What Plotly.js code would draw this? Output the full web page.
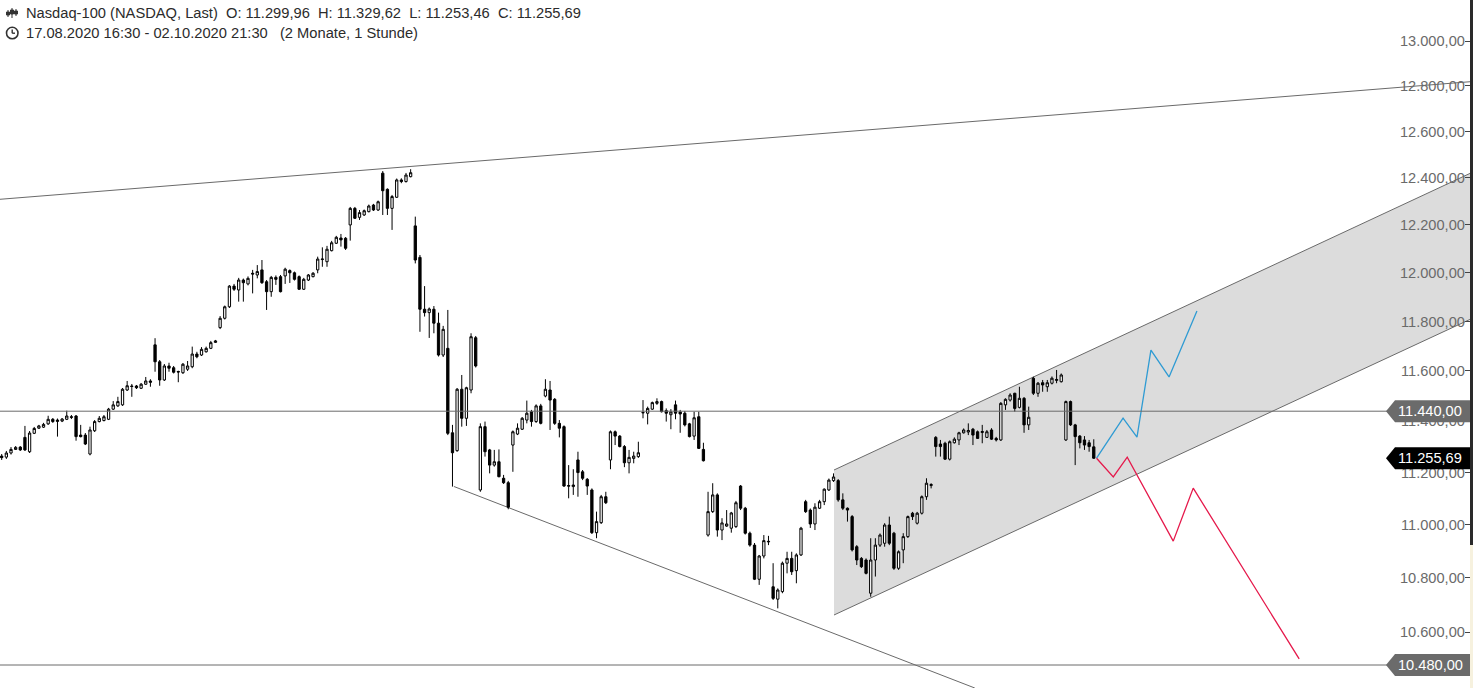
<!DOCTYPE html>
<html><head><meta charset="utf-8">
<script src="https://cdn.plot.ly/plotly-3.0.1.min.js"></script>
<style>html,body{margin:0;padding:0;background:#fff;overflow:hidden}</style>
</head><body><div id="chart" style="width:1473px;height:688px"></div>
<script>
// ---- Nasdaq-100 hourly candles, 17.08.2020 - 02.10.2020 ----
const open = [11264,11260,11276,11290,11299,11337,11281,11353,11373,11377,
11390,11408,11405,11401,11408,11418,11421,11346,11346,11272,
11363,11399,11403,11408,11448,11461,11465,11524,11540,11540,
11531,11547,11560,11705,11637,11564,11620,11613,11598,11593,
11607,11617,11668,11664,11677,11691,11715,11775,11813,11860,
11945,11929,11970,11954,11998,11991,12012,11963,11922,11981,
11984,11987,12009,12000,11984,11932,11970,11984,12012,12055,
12046,12092,12123,12145,12144,12200,12270,12232,12242,12256,
12284,12263,12420,12351,12270,12317,12391,12384,12405,12196,
12064,11850,11836,11850,11793,11664,11691,11355,11285,11527,
11412,11524,11734,11133,11379,11288,11229,11242,11178,11161,
11307,11350,11369,11405,11438,11399,11461,11500,11524,11487,
11392,11379,11150,11146,11249,11203,11174,11133,10970,11008,
11107,11249,11359,11342,11301,11238,11255,11262,11433,11432,
11448,11471,11478,11442,11426,11465,11437,11432,11390,11342,
11418,11290,10961,11050,11114,10980,10995,10987,10993,11148,
11063,10968,10923,10795,10882,10935,10767,10721,10749,10855,
10873,10827,10886,11088,11056,11003,11063,11088,11133,11169,
11169,11095,11063,11031,10917,10873,10867,10743,10867,10923,
10930,10999,10968,10836,10905,10955,11044,11006,11044,11107,
11150,11337,11311,11314,11252,11316,11327,11355,11358,11369,
11359,11356,11337,11366,11333,11327,11465,11484,11511,11455,
11491,11386,11571,11511,11553,11537,11551,11562,11557,11327,
11478,11386,11342,11327,11316,11299.96];
const high = [11272,11284,11299,11303,11303,11382,11362,11378,11386,11394,
11422,11413,11411,11413,11442,11425,11425,11386,11354,11379,
11405,11421,11425,11453,11480,11497,11532,11560,11548,11544,
11552,11576,11567,11732,11644,11628,11633,11620,11601,11632,
11640,11698,11677,11696,11698,11721,11725,11822,11865,11949,
11954,11979,11976,11985,12012,12032,12053,11970,11987,11989,
11991,12021,12014,12005,11989,11979,11995,12003,12067,12106,
12112,12133,12154,12162,12149,12276,12276,12263,12265,12286,
12289,12303,12429,12355,12327,12397,12398,12421,12437,12235,
12074,11945,11857,11863,11836,11782,11847,11386,11532,11584,
11537,11752,11741,11392,11399,11292,11288,11290,11191,11168,
11364,11392,11417,11482,11445,11467,11469,11567,11560,11492,
11405,11384,11229,11213,11281,11210,11179,11139,11050,11114,
11126,11364,11364,11346,11307,11288,11281,11320,11484,11458,
11478,11491,11482,11451,11448,11482,11445,11441,11394,11438,
11438,11316,11126,11159,11120,11025,11056,11049,11091,11152,
11068,10974,10931,10886,10961,10958,10855,10761,10861,10898,
10898,10892,10992,11095,11062,11082,11095,11139,11177,11197,
11175,11120,11066,11037,10923,10878,10873,10949,10949,10967,
11006,11031,10973,10903,10968,11035,11049,11049,11112,11178,
11159,11342,11327,11320,11325,11337,11359,11372,11392,11374,
11364,11386,11366,11373,11339,11476,11491,11511,11513,11537,
11496,11458,11577,11556,11564,11564,11578,11604,11590,11482,
11482,11390,11346,11342,11327,11329.62];
const low = [11249,11253,11270,11288,11284,11284,11276,11350,11370,11374,
11386,11394,11340,11397,11405,11409,11324,11337,11307,11267,
11358,11396,11400,11405,11445,11457,11461,11520,11497,11528,
11528,11544,11537,11597,11541,11560,11597,11590,11555,11588,
11600,11611,11651,11660,11674,11688,11713,11769,11808,11855,
11925,11881,11881,11948,11915,11977,11954,11847,11901,11950,
11919,11954,11958,11968,11929,11929,11966,11981,11998,12025,
12025,12089,12120,12109,12095,12134,12225,12221,12238,12253,
12259,12259,12242,12242,12179,12314,12377,12380,12402,12039,
11758,11820,11733,11752,11658,11656,11346,11146,11281,11379,
11382,11511,11614,11126,11262,11197,11223,11182,11156,11059,
11203,11346,11366,11392,11379,11394,11388,11495,11366,11386,
11337,11145,11101,11114,11107,11171,11114,10965,10949,11003,
11079,11213,11307,11298,11221,11197,11236,11257,11412,11388,
11445,11465,11435,11399,11369,11408,11355,11380,11337,11327,
11292,11243,10955,11045,10955,10942,10992,10970,10988,11056,
10963,10917,10792,10774,10873,10923,10718,10687,10743,10817,
10811,10780,10882,11045,10988,10980,11060,11075,11129,11164,
11088,11056,11012,10899,10848,10837,10813,10730,10805,10916,
10917,10923,10830,10830,10855,10950,11018,11001,11039,11095,
11139,11262,11262,11249,11247,11313,11307,11352,11346,11307,
11331,11314,11335,11327,11321,11323,11445,11478,11438,11451,
11355,11366,11504,11497,11517,11517,11546,11551,11554,11323,
11382,11229,11294,11288,11281,11253.46];
const close = [11258,11276,11290,11298,11288,11288,11354,11372,11382,11388,
11408,11399,11400,11409,11421,11416,11340,11340,11311,11366,
11399,11412,11418,11448,11465,11478,11527,11541,11538,11533,
11547,11560,11555,11637,11564,11620,11611,11595,11596,11627,
11620,11668,11657,11687,11691,11714,11721,11813,11860,11945,
11932,11970,11959,11977,11995,12005,11959,11922,11981,11973,
11922,12015,12000,11973,11932,11973,11991,11998,12057,12057,
12098,12125,12148,12137,12102,12270,12228,12252,12260,12280,
12263,12298,12345,12270,12320,12391,12384,12412,12422,12053,
11850,11836,11851,11793,11664,11768,11353,11277,11527,11412,
11533,11738,11620,11379,11281,11229,11242,11184,11161,11067,
11359,11373,11412,11432,11399,11461,11392,11527,11484,11392,
11373,11148,11148,11152,11200,11178,11148,10970,11012,11107,
11084,11359,11342,11301,11238,11259,11264,11277,11435,11451,
11474,11478,11438,11432,11437,11432,11429,11386,11340,11414,
11294,11246,11050,11114,10980,11007,11003,11045,11084,11063,
10968,10923,10795,10882,10940,10937,10724,10755,10855,10873,
10823,10886,10987,11050,11003,11067,11088,11136,11171,11183,
11095,11063,11056,10905,10867,10842,10817,10867,10923,10961,
10999,10930,10836,10898,10955,11031,11031,11044,11107,11159,
11154,11301,11301,11252,11320,11330,11355,11366,11364,11346,
11333,11360,11359,11330,11327,11471,11487,11504,11451,11491,
11386,11416,11511,11551,11544,11553,11571,11566,11584,11478,
11386,11340,11316,11307,11301,11255.69];

// ---- drawings (bar index, price) ----
const upperTrendX = [-0.37, 316.6];
const upperTrendY = [12308.5, 12819.5];
const lowerTrendX = [97.3, 209.4];
const lowerTrendY = [11146.4, 10397.1];
const channelX = [179.1, 316.6];
const channelUpper = [11210, 12425];
const channelLower = [10662.5, 11814];
const blueX = [235.6, 241.3, 244.3, 247.3, 251.2, 257.2];
const blueY = [11255.69, 11413, 11338, 11684, 11576, 11843];
const redX = [235.6, 239.2, 242.2, 252.1, 256.4, 279.2];
const redY = [11255.69, 11183, 11260, 10938, 11140, 10502];
const levels = [11440, 10480];
const yTicks = [10400,10600,10800,11000,11200,11400,11600,11800,12000,12200,12400,12600,12800,13000];
const titleName = 'Nasdaq-100 (NASDAQ, Last)';
const periodText = '17.08.2020 16:30 - 02.10.2020 21:30   (2 Monate, 1 Stunde)';

const idx = open.map((_, i) => i);
const last = open.length - 1;
const fmt = v => { const s = v.toFixed(2); let [a, b] = s.split('.'); a = a.replace(/\B(?=(\d{3})+(?!\d))/g, '.'); return a + ',' + b; };

const W = 1473, H = 688, R = 3, PW = W - R;
const px = x => x / PW, py = y => 1 - y / H;
const FONT = 'Liberation Sans, Arial, sans-serif';
const NB = '\u00a0';

const traces = [
  {type:'candlestick', x: idx, open, high, low, close, whiskerwidth: 0,
   increasing:{line:{color:'#000', width:1}, fillcolor:'#ffffff'},
   decreasing:{line:{color:'#000', width:1}, fillcolor:'#000000'},
   hoverinfo:'skip', showlegend:false},
  {type:'scatter', mode:'lines', x: blueX, y: blueY, line:{color:'#2f9bd3', width:1.3}, hoverinfo:'skip'},
  {type:'scatter', mode:'lines', x: redX, y: redY, line:{color:'#e5194b', width:1.3}, hoverinfo:'skip'}
];

const lineCol = '#6a6a6a';
const shapes = [
  {type:'path', xref:'x', yref:'y', layer:'below', line:{width:0}, fillcolor:'#dcdcdc',
   path:`M${channelX[0]},${channelUpper[0]} L${channelX[1]},${channelUpper[1]} L${channelX[1]},${channelLower[1]} L${channelX[0]},${channelLower[0]} Z`},
  {type:'line', xref:'x', yref:'y', layer:'below', x0:channelX[0], x1:channelX[1], y0:channelUpper[0], y1:channelUpper[1], line:{color:lineCol, width:1}},
  {type:'line', xref:'x', yref:'y', layer:'below', x0:channelX[0], x1:channelX[1], y0:channelLower[0], y1:channelLower[1], line:{color:lineCol, width:1}},
  {type:'line', xref:'x', yref:'y', layer:'below', x0:upperTrendX[0], x1:upperTrendX[1], y0:upperTrendY[0], y1:upperTrendY[1], line:{color:lineCol, width:1}},
  {type:'line', xref:'x', yref:'y', layer:'below', x0:lowerTrendX[0], x1:lowerTrendX[1], y0:lowerTrendY[0], y1:lowerTrendY[1], line:{color:lineCol, width:1}},
  // right edge strip
  {type:'rect', xref:'paper', yref:'paper', x0:1, x1:W/PW, y0:py(545), y1:1, line:{width:0}, fillcolor:'#2a2a2a'},
  {type:'rect', xref:'paper', yref:'paper', x0:1, x1:W/PW, y0:0, y1:py(545), line:{width:0}, fillcolor:'#f6f1de'}
];
const annotations = [];
levels.forEach(v => {
  shapes.push({type:'line', xref:'paper', yref:'y', x0:0, x1:px(1388), y0:v, y1:v, line:{color:lineCol, width:1}});
});
const labels = [[levels[0], '#6b6b6b'], [close[last], '#000000'], [levels[1], '#6b6b6b']];
labels.forEach(([v, c]) => {
  shapes.push({type:'path', xref:'paper', yref:'y', xsizemode:'pixel', ysizemode:'pixel', xanchor:1, yanchor:v,
    path:'M-84,0 L-75,11 L0,11 L0,-11 L-75,-11 Z', fillcolor:c, line:{width:0}});
  annotations.push({xref:'paper', yref:'y', x:px(1430), y:Math.log10(v), text:fmt(v), showarrow:false,
    xanchor:'center', yanchor:'middle', font:{family:FONT, size:14.6, color:'#ffffff'}});
});

// header icons
const ic = '#333';
[[8,10,17,12,15],[12,8,18,10,14],[16,9,16,11,14]].forEach(([x,t,b,bt,bb]) => {
  shapes.push({type:'line', xref:'paper', yref:'paper', x0:px(x), x1:px(x), y0:py(t), y1:py(b), line:{color:ic, width:1}});
  shapes.push({type:'rect', xref:'paper', yref:'paper', x0:px(x-1.5), x1:px(x+1.5), y0:py(bt), y1:py(bb), line:{color:ic, width:1}, fillcolor:ic});
});
shapes.push({type:'circle', xref:'paper', yref:'paper', x0:px(6.5), x1:px(18), y0:py(38.8), y1:py(27.3), line:{color:ic, width:1.6}});
shapes.push({type:'line', xref:'paper', yref:'paper', x0:px(12.2), x1:px(12.2), y0:py(33.2), y1:py(29.5), line:{color:ic, width:1.4}});
shapes.push({type:'line', xref:'paper', yref:'paper', x0:px(12.2), x1:px(15), y0:py(33.2), y1:py(33.2), line:{color:ic, width:1.4}});

const header = titleName + NB+NB + 'O: ' + fmt(open[last]) + NB+NB + 'H: ' + fmt(high[last]) + NB+NB + 'L: ' + fmt(low[last]) + NB+NB + 'C: ' + fmt(close[last]);
annotations.push({xref:'paper', yref:'paper', x:px(24), y:py(13), xanchor:'left', yanchor:'middle', showarrow:false,
  text: header, font:{family:FONT, size:14.7, color:'#2b2b2b'}});
annotations.push({xref:'paper', yref:'paper', x:px(24), y:py(33), xanchor:'left', yanchor:'middle', showarrow:false,
  text: periodText.replace(/ /g, NB), font:{family:FONT, size:14.7, color:'#2b2b2b'}});

const logTop = Math.log10(13000) + 41/6668;
const logBot = Math.log10(13000) - 647/6668;

const layout = {
  width: W, height: H,
  margin:{l:0, r:R, t:0, b:0, pad:0},
  paper_bgcolor:'#ffffff', plot_bgcolor:'#ffffff',
  separators:',.', showlegend:false, hovermode:false, dragmode:false,
  xaxis:{range:[-0.366, 315.96], visible:false, showgrid:false, zeroline:false, rangeslider:{visible:false}, fixedrange:true},
  yaxis:{type:'log', range:[logBot, logTop], side:'right', ticklabelposition:'inside', ticks:'inside', ticklen:5,
    tickcolor:'#444', tickwidth:1, tickvals:yTicks, tickformat:',.2f', showgrid:false, zeroline:false, showline:false,
    tickfont:{family:FONT, size:14.6, color:'#6a6a6a'}, fixedrange:true},
  shapes, annotations
};
Plotly.newPlot('chart', traces, layout, {staticPlot:true, displayModeBar:false});
</script></body></html>
